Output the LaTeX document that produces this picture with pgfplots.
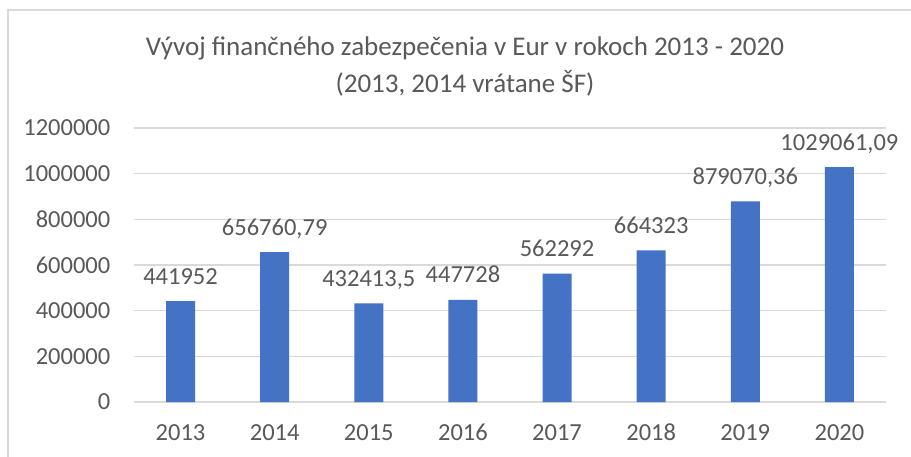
\documentclass[border=0pt]{standalone}
\usepackage{pgfplots}
\pgfplotsset{compat=1.18}
\usepackage{fontspec}
\setmainfont{Carlito}
\definecolor{barblue}{HTML}{4472C4}
\definecolor{txtgray}{HTML}{595959}
\definecolor{gridgray}{HTML}{D9D9D9}
\definecolor{framegray}{HTML}{D9D9D9}

\begin{document}
\begin{tikzpicture}[x=1pt,y=1pt]
\useasboundingbox[fill=white] (0,0) rectangle (911,456);
% chart frame, cut by the right and bottom edges
\draw[framegray,line width=1.2pt] (8,-5) -- (8,446) -- (916,446);
\node[text=txtgray,font=\fontsize{27}{30}\selectfont,anchor=base] at (465,400) {Vývoj finančného zabezpečenia v Eur v rokoch 2013 - 2020};
\node[text=txtgray,font=\fontsize{27}{30}\selectfont,anchor=base] at (465,363) {(2013, 2014 vrátane ŠF)};
\begin{axis}[
 at={(133.5pt,54pt)},anchor=south west,
 scale only axis,width=753pt,height=274pt,
 xmin=-0.5,xmax=7.5,ymin=0,ymax=1200000,
 ytick distance=200000,
 xtick={0,...,7},
 xticklabels={2013,2014,2015,2016,2017,2018,2019,2020},
 scaled y ticks=false,
 yticklabel style={/pgf/number format/fixed,/pgf/number format/1000 sep={}},
 /pgf/number format/assume math mode=true,
 axis line style={draw=none},
 major tick length=0pt,
 ymajorgrids,
 grid style={gridgray,line width=1.2pt},
 tick label style={text=txtgray,font=\fontsize{24.5}{27}\selectfont},
 yticklabel style={anchor=east,inner sep=0pt,xshift=-23pt},
 xticklabel style={anchor=base,inner sep=0pt,yshift=-38pt},
 ybar,bar width=29pt,
 point meta=explicit symbolic,
 nodes near coords,
 nodes near coords style={text=txtgray,font=\fontsize{24.5}{27}\selectfont,anchor=base,inner sep=0pt,yshift=17pt},
]
\addplot[fill=barblue,draw=none] coordinates {
 (0,441952) [441952]
 (1,656760.79) [{656760,79}]
 (2,432413.5) [{432413,5}]
 (3,447728) [447728]
 (4,562292) [562292]
 (5,664323) [664323]
 (6,879070.36) [{879070,36}]
 (7,1029061.09) [{1029061,09}]
};
\end{axis}
\end{tikzpicture}
\end{document}
